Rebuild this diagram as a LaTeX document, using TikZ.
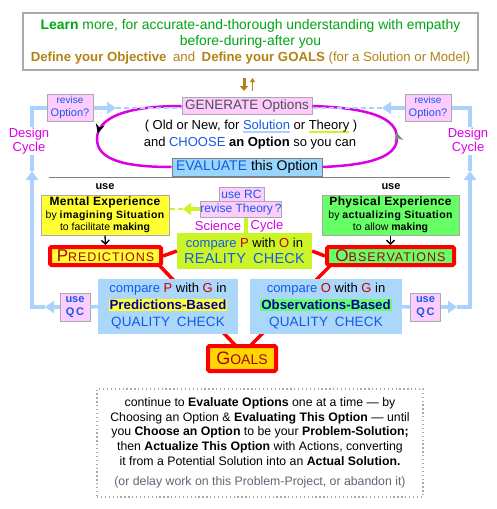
\documentclass[tikz,border=0pt]{standalone}
\usepackage{fontspec}
\setmainfont{Liberation Sans}
\usetikzlibrary{arrows.meta,decorations.markings}
\definecolor{pinkf}{RGB}{255,204,255}
\definecolor{bgray}{RGB}{170,170,170}
\definecolor{qcblue}{RGB}{170,215,250}
\definecolor{evalblue}{RGB}{153,214,255}
\definecolor{dcblue}{RGB}{170,210,250}
\definecolor{txtblue}{RGB}{20,90,230}
\definecolor{dkblue}{RGB}{0,0,170}
\definecolor{mag}{RGB}{220,0,230}
\definecolor{ygreen}{RGB}{204,245,40}
\definecolor{lgreen}{RGB}{102,255,102}
\definecolor{yel}{RGB}{255,255,51}
\definecolor{goldf}{RGB}{255,215,0}
\definecolor{dred}{RGB}{170,0,20}
\definecolor{learngreen}{RGB}{0,165,20}
\definecolor{brownt}{RGB}{180,130,20}
\definecolor{gtxt}{RGB}{80,80,80}
\definecolor{pcol}{RGB}{200,0,0}
\definecolor{redl}{RGB}{255,0,0}
\definecolor{delaygray}{RGB}{100,100,120}
\newcommand\fsz[2]{\fontsize{#1}{#2}\selectfont}
\newlength\ulwd
\newcommand\myul[2]{\settowidth\ulwd{#2}\rlap{\textcolor{#1}{\rule[-3.5pt]{\ulwd}{2pt}}}#2}
\newcommand\hl[2]{{\setlength{\fboxsep}{1pt}\colorbox{#1}{#2}}}
\begin{document}
\begin{tikzpicture}[x=1pt,y=-1pt,
  pinkbox/.style={draw=bgray, fill=pinkf, line width=1pt, inner sep=0pt, align=center, text=txtblue},
  expbox/.style={draw=bgray, line width=1pt, inner sep=0pt, align=center, font=\bfseries\fsz{10.5}{12.5}},
  redbox/.style={draw=redl, line width=4pt, inner sep=0pt, text=dred, rounded corners=1.5pt},
  qcbox/.style={fill=qcblue, inner sep=0pt, align=center},
  dc/.style={draw=dcblue, line width=3.5pt},
  dctip/.style={dc, -{Triangle[length=9pt,width=12pt]}},
  redline/.style={draw=redl, line width=3.5pt},
  ygline/.style={draw=ygreen, line width=3.5pt},
  magtxt/.style={text=mag, font=\fsz{13}{14.5}, inner sep=1pt},
  blackarrow/.style={-{Straight Barb[length=4pt,width=8pt]}, line width=1.3pt}
]
\useasboundingbox (0,0) rectangle (497,509);
\fill[white] (0,0) rectangle (497,509);

% top box
\node[draw=bgray, line width=1.2pt, minimum width=455pt, minimum height=57pt, inner sep=0pt, align=center, font=\fsz{13.9}{16}] (top) at (250.5,41.5)
 {\textcolor{learngreen}{\textbf{Learn} more, for accurate-and-thorough understanding with empathy}\\
  \textcolor{learngreen}{before-during-after you}\\
  \textcolor{brownt}{\fsz{13.2}{16}\textbf{Define your Objective}\enspace and\enspace \textbf{Define your GOALS} (for a Solution or Model)}};

% GENERATE and EVALUATE
\node[pinkbox, text=gtxt, minimum width=130pt, minimum height=17pt, font=\fsz{13.5}{14}] (gen) at (247,106) {GENERATE Options};
\node[inner sep=0pt, font=\fsz{13}{14}] (optline) at (251,127) {( Old or New, for \textcolor{txtblue}{\myul{dcblue}{Solution}} or \myul{ygreen}{Theory} )};
\node[inner sep=0pt, font=\fsz{13}{14}] (choose) at (250,143) {and \textcolor{txtblue}{CHOOSE} \textbf{an Option} so you can};
\draw[draw=gray, line width=1pt] (49,177) coordinate (hl1) -- (450,177) coordinate (hl2);
\node[draw=gray, fill=evalblue, line width=1pt, minimum width=150pt, minimum height=18pt, inner sep=0pt, font=\fsz{14}{15}] (eval) at (247,167) {\textcolor{txtblue}{EVALUATE} this Option};

% top arrows
\coordinate (ad1) at (244,78); \coordinate (ad2) at (244,91);
\coordinate (au1) at (252.5,91); \coordinate (au2) at (252.5,78);
\draw[brownt, line width=3pt, -{Triangle[length=5pt,width=8pt]}] (ad1) -- (ad2);
\draw[brownt, line width=1.2pt, -{Triangle[length=4pt,width=5pt]}] (au1) -- (au2);

% magenta loop
\draw[mag, line width=2.5pt, postaction={decorate},
  decoration={markings, mark=at position 0.5 with {\arrow[black]{Stealth[length=9pt,width=9pt]}}}]
  (gen.west) .. controls (125,106) and (97,118) .. (97,139) .. controls (97,160) and (125,167) .. (eval.west);
\draw[mag, line width=2.5pt, postaction={decorate},
  decoration={markings, mark=at position 0.5 with {\arrow[gray]{Stealth[length=9pt,width=9pt]}}}]
  (eval.east) .. controls (370,165) and (397,157) .. (397,138) .. controls (397,118) and (370,108) .. (gen.east);

% revise option boxes
\node[pinkbox, minimum width=46pt, minimum height=27pt, font=\fsz{11}{13}] (revL) at (70,107.5) {{\fsz{10}{12}revise}\\Option?};
\node[pinkbox, minimum width=46pt, minimum height=27pt, font=\fsz{11}{13}] (revR) at (428,107.5) {{\fsz{10}{12}revise}\\Option?};

% experience boxes
\node[font=\bfseries\fsz{11}{12}, inner sep=0pt] (useL) at (105,187) {use};
\node[font=\bfseries\fsz{11}{12}, inner sep=0pt] (useR) at (391,187) {use};
\node[expbox, fill=yel, minimum width=128pt, minimum height=40pt] (mental) at (105,215)
 {{\fsz{12}{13}\addfontfeatures{LetterSpace=3}Mental Experience}\\{\mdseries by} {\addfontfeatures{LetterSpace=4}imagining Situation}\\{\mdseries to facilitate} making};
\node[expbox, fill=lgreen, minimum width=137pt, minimum height=40pt] (phys) at (390.5,215)
 {{\fsz{12}{13}\addfontfeatures{LetterSpace=3}Physical Experience}\\{\mdseries by} {\addfontfeatures{LetterSpace=4}actualizing Situation}\\{\mdseries to allow} making};

% predictions / observations / goals
\node[redbox, fill=yel, minimum width=111pt, minimum height=18pt] (pred) at (105.5,256)
 {\addfontfeatures{LetterSpace=8}{\fsz{17}{17}P}{\fsz{12.5}{13}REDICTIONS}};
\node[redbox, fill=lgreen, minimum width=127pt, minimum height=18pt] (obs) at (390.5,256)
 {\addfontfeatures{LetterSpace=8}{\fsz{17}{17}O}{\fsz{12.5}{13}BSERVATIONS}};
\node[redbox, fill=goldf, minimum width=68pt, minimum height=25pt] (goals) at (242,358.5)
 {{\fsz{18}{18}G}{\fsz{14}{14}OALS}};

\draw[blackarrow] (mental.south) -- (pred.north);
\draw[blackarrow] (phys.south) -- (obs.north);

% red connectors
\coordinate (pl) at (160,266); \coordinate (gl) at (236,346);
\coordinate (or) at (330,266); \coordinate (gr) at (250,346);
\draw[redline] (pl) -- (gl);
\draw[redline] (or) -- (gr);

% science cycle
\node[pinkbox, minimum width=45pt, minimum height=14pt, font=\fsz{12}{13}] (useRC) at (241.5,194) {use RC};
\node[pinkbox, minimum width=80pt, minimum height=16pt, font=\fsz{12}{13}] (revT) at (241,209) {revise Theory\,?};
\node[qcbox, fill=ygreen, minimum width=135pt, minimum height=36pt, font=\fsz{13}{16}] (real) at (244.5,251)
 {\textcolor{txtblue}{compare} \textcolor{pcol}{P} with \textcolor{pcol}{O} in\\
  \textcolor{txtblue}{\fsz{14.5}{16}\addfontfeatures{LetterSpace=1.5}REALITY\enspace CHECK}};
\draw[redline] (pred.east) -- (real.west);
\draw[redline] (real.east) -- (obs.west);
\draw[ygline] (real.north) ++(1.5,0) coordinate (rn) -- (rn |- revT.south);
\coordinate (ytip) at (183,209);
\draw[ygline, -{Triangle[length=8pt,width=12pt]}] (revT.west) -- (ytip);
\draw[ygreen, line width=1.5pt, dash pattern=on 5pt off 3pt] (ytip) -- (mental.east |- ytip);
\node[magtxt] (sci) at (218,226) {Science};
\node[magtxt] (cyc) at (267,226) {Cycle};

% quality check boxes
\node[qcbox, minimum width=140pt, minimum height=55pt, font=\fsz{13}{17}] (qcP) at (168,306.5)
 {\textcolor{txtblue}{compare} \textcolor{pcol}{P} with \textcolor{pcol}{G} in\\
  \hl{yel}{\textcolor{dkblue}{\fsz{13.3}{15}\bfseries Predictions-Based}}\\
  \textcolor{txtblue}{\fsz{13.5}{15}\addfontfeatures{LetterSpace=1.5}QUALITY\enspace CHECK}};
\node[qcbox, minimum width=152pt, minimum height=55pt, font=\fsz{13}{17}] (qcO) at (326,306.5)
 {\textcolor{txtblue}{compare} \textcolor{pcol}{O} with \textcolor{pcol}{G} in\\
  \hl{lgreen}{\textcolor{dkblue}{\fsz{13.3}{15}\bfseries Observations-Based}}\\
  \textcolor{txtblue}{\fsz{13.5}{15}\addfontfeatures{LetterSpace=1.5}QUALITY\enspace CHECK}};

\node[pinkbox, minimum width=30pt, minimum height=28pt, font=\fsz{11}{13}\bfseries] (uqL) at (75,307) {use\\{\addfontfeatures{LetterSpace=15}QC}};
\node[pinkbox, minimum width=30pt, minimum height=28pt, font=\fsz{11}{13}\bfseries] (uqR) at (425.5,307) {use\\{\addfontfeatures{LetterSpace=15}QC}};

% design cycle left
\coordinate (l1) at (45,307); \coordinate (l2) at (32,307); \coordinate (l3) at (32,171);
\coordinate (l4) at (32,108); \coordinate (l5) at (116,108);
\draw[dc] (qcP.west) -- (uqL.east);
\draw[dctip] (uqL.west) -- (l1);
\draw[dctip] (l1) -- (l2) -- (l3);
\draw[dc] (l3) -- (l4) -- (revL.west |- l4);
\draw[dctip] (revL.east |- l5) -- (l5);
\draw[dcblue, line width=1.2pt, dash pattern=on 5pt off 3pt] (l5) -- (gen.west |- l5);
\node[magtxt, fill=white, align=center] (dcL) at (29,141) {Design\\Cycle};

% design cycle right
\coordinate (r1) at (457,307); \coordinate (r2) at (470,307); \coordinate (r3) at (470,171);
\coordinate (r4) at (470,108); \coordinate (r5) at (382,108);
\draw[dc] (qcO.east) -- (uqR.west);
\draw[dctip] (uqR.east) -- (r1);
\draw[dctip] (r1) -- (r2) -- (r3);
\draw[dc] (r3) -- (r4) -- (revR.east |- r4);
\draw[dctip] (revR.west |- r5) -- (r5);
\draw[dcblue, line width=1.2pt, dash pattern=on 5pt off 3pt] (r5) -- (gen.east |- r5);
\node[magtxt, fill=white, align=center] (dcR) at (468,141) {Design\\Cycle};

% bottom note
\node[draw=bgray, line width=1.3pt, dash pattern=on 1.3pt off 2.6pt, minimum width=326pt, minimum height=108pt, inner sep=0pt, align=center, font=\fsz{12.3}{14.6}] (note) at (260,443)
 {continue to \textbf{Evaluate Options} one at a time — by\\
  Choosing an Option \& \textbf{Evaluating This Option} — until\\
  you \textbf{Choose an Option} to be your \textbf{Problem-Solution;}\\
  then \textbf{Actualize This Option} with Actions, converting\\
  it from a Potential Solution into an \textbf{Actual Solution.}\\[6pt]
  \textcolor{delaygray}{(or delay work on this Problem-Project, or abandon it)}};
\end{tikzpicture}
\end{document}
